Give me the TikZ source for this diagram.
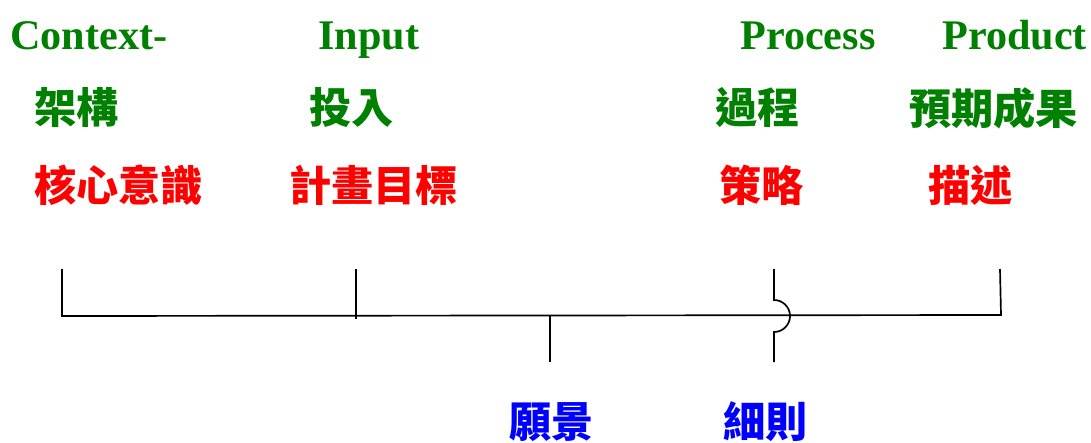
\documentclass[tikz,border=0pt]{standalone}
\usepackage{fontspec}
\setmainfont{Liberation Serif}
\newfontfamily\cjk{Noto Sans CJK TC}
\usetikzlibrary{positioning}
\definecolor{LGreen}{RGB}{0,128,0}
\definecolor{LRed}{RGB}{255,0,0}
\definecolor{LBlue}{RGB}{0,0,255}

\begin{document}
\begin{tikzpicture}[x=0.025cm, y=-0.025cm,
    head/.style={anchor=base west, inner sep=0pt, text=LGreen, font=\fontsize{30}{34}\selectfont\bfseries},
    zh/.style={anchor=west, inner sep=0pt, font=\fontsize{30}{34}\selectfont\cjk\bfseries},
    tick/.style={line width=1.2pt, black}]
    \useasboundingbox (0,0) rectangle (1091,442);

    % Headings
    \node[head] (ctx) at (10,49) {Context-};
    \node[head] (inp) at (318,49) {Input};
    \node[head] (proc) at (740,49) {Process};
    \node[head] (prod) at (942,49) {Product};

    % Chinese names
    \node[zh, text=LGreen] (ctxzh) at (34,108) {架構};
    \node[zh, text=LGreen] (inpzh) at (309,108) {投入};
    \node[zh, text=LGreen] (proczh) at (715,108) {過程};
    \node[zh, text=LGreen] (prodzh) at (909,108) {預期成果};

    % What each one holds
    \node[zh, text=LRed] (core) at (34,185) {核心意識};
    \node[zh, text=LRed] (goal) at (289,185) {計畫目標};
    \node[zh, text=LRed] (strat) at (719,185) {策略};
    \node[zh, text=LRed] (desc) at (928,185) {描述};

    % Below the line
    \node[zh, text=LBlue] (vis) at (509,422) {願景};
    \node[zh, text=LBlue] (rule) at (723,422) {細則};

    % Line and ticks
    \coordinate (L0) at (62,316);
    \coordinate (L1) at (1001,315);
    \coordinate (T1) at (62,269);
    \coordinate (T2) at (356,269);
    \coordinate (B2) at (356,319);
    \coordinate (T3) at (774,269);
    \coordinate (J3) at (774,300);
    \coordinate (B3) at (774,362);
    \coordinate (T4) at (1000,269);
    \coordinate (V0) at (550,316);
    \coordinate (V1) at (550,362);

    \draw[tick] (T1) -- (L0) -- (L1) -- (T4);
    \draw[tick] (T2) -- (B2);
    \draw[tick] (V0) -- (V1);
    \draw[tick] (T3) -- (J3) arc (-90:90:16) -- (B3);
\end{tikzpicture}
\end{document}
